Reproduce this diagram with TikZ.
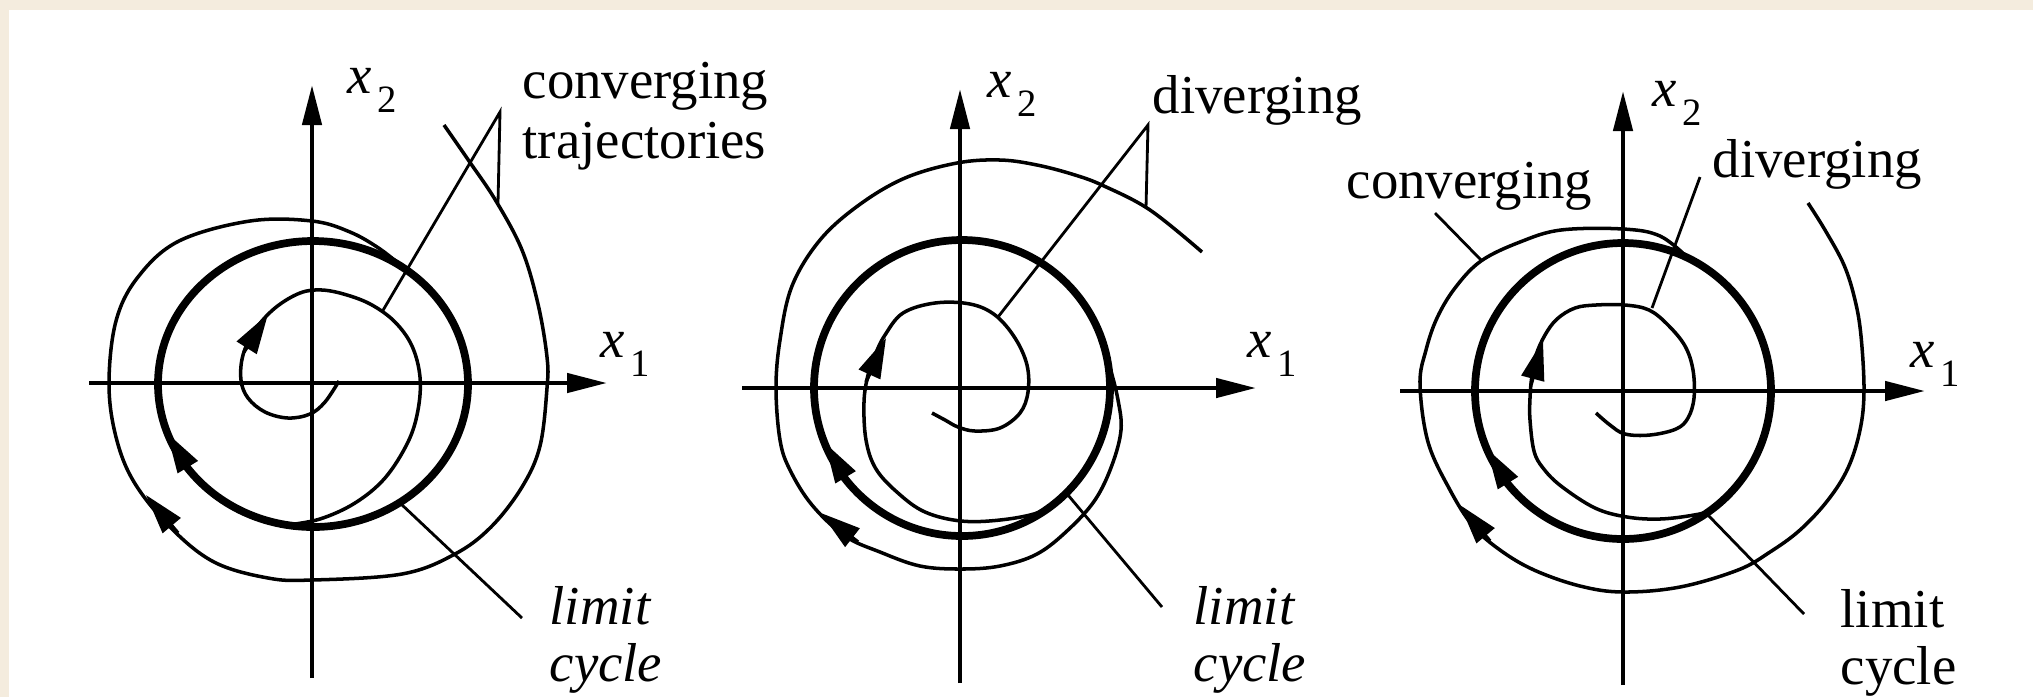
\documentclass[tikz,border=0pt]{standalone}
\usepackage{fontspec}
\setmainfont{Liberation Serif}
\usepackage{xcolor}
\usetikzlibrary{arrows.meta,positioning}
\definecolor{paper}{RGB}{244,236,222}
\newcommand{\axsub}[1]{\hspace{1.5pt}\raisebox{-5.5pt}{\fontsize{11pt}{11pt}\selectfont\upshape #1}}

\begin{document}
\begin{tikzpicture}[x=0.1mm, y=-0.1mm,
    axis/.style={line width=1.3pt, -{Triangle[length=4mm,width=1.9mm]}},
    limcyc/.style={line width=2.2pt},
    traj/.style={line width=1pt},
    leader/.style={line width=0.8pt},
    flowtip/.style={line width=1pt, -{Triangle[length=4mm,width=2.3mm]}},
    lbl/.style={font=\fontsize{15.6pt}{16pt}\selectfont, inner sep=0pt, anchor=base west, align=left},
    axlbl/.style={font=\fontsize{15.6pt}{16pt}\selectfont\itshape, inner sep=0pt, anchor=base west}]
    \useasboundingbox (0,0) rectangle (2033,697);
    \fill[paper] (0,0) rectangle (2033,697);
    \fill[white] (9,10) rectangle (2033,697);

    \draw[axis] (89,383) -- (607,383);
    \draw[axis] (312,678) -- (312,85);
    \node[axlbl] (p1xa) at (600,357) {x\axsub{1}};
    \node[axlbl] (p1xb) at (347,93) {x\axsub{2}};
    \draw[limcyc] (313,384) ellipse [x radius=155, y radius=143];
    \draw[traj] plot[smooth, tension=0.6] coordinates {(444,125) (469,161) (496,201) (522,250) (538,304) (547,357) (547,388) (540,446) (522,487) (491,527) (455,554) (402,574) (312,580) (268,578) (214,562) (170,527) (134,482) (116,437) (109,384) (116,321) (138,277) (179,241) (250,221) (312,221) (350,232) (380,249) (405,269)};
    \draw[traj] plot[smooth, tension=0.6] coordinates {(339,381) (325,402) (310,414) (288,418) (265,412) (248,398) (241,380) (243,355) (255,330) (275,308) (300,293) (322,290) (347,295) (372,305) (395,322) (412,346) (420,377) (418,410) (408,442) (385,478) (355,503) (320,519) (287,525)};
    \draw[flowtip] (178,533) -- (146,495);
    \draw[flowtip] (192,474) -- (167,433);
    \draw[flowtip] (244,352) -- (268,314);
    \node[lbl] (conv1) at (522,158) {converging\\[1pt]trajectories};
    \node[lbl, font=\fontsize{15.6pt}{16pt}\selectfont\itshape] (lim1) at (549,681) {limit\\cycle};
    \coordinate (p1apex) at (500,112);
    \coordinate (p1in) at (382,312);
    \coordinate (p1out) at (498,203);
    \coordinate (p1lc) at (400,503);
    \coordinate (p1lcend) at (522,618);
    \draw[leader] (p1in) -- (p1apex) -- (p1out);
    \draw[leader] (p1lc) -- (p1lcend);

    \draw[axis] (742,388) -- (1256,388);
    \draw[axis] (960,683) -- (960,89);
    \node[axlbl] (p2xa) at (1247,357) {x\axsub{1}};
    \node[axlbl] (p2xb) at (987,97) {x\axsub{2}};
    \draw[limcyc] (962,388) circle [radius=148];
    \draw[traj] plot[smooth, tension=0.6] coordinates {(1100,340) (1110,368) (1118,400) (1121,430) (1112,465) (1095,500) (1068,530) (1037,554) (1000,566) (961,569) (920,566) (880,552) (845,536) (812,505) (790,470) (780,440) (776,388) (780,340) (792,286) (820,240) (859,205) (905,178) (957,163) (1000,160) (1037,165) (1075,175) (1104,186) (1150,210) (1202,252)};
    \draw[traj] plot[smooth, tension=0.6] coordinates {(1095,455) (1080,478) (1060,500) (1037,513) (1000,520) (961,521) (925,512) (898,493) (876,469) (866,440) (864,402) (868,375) (875,355) (885,335) (903,313) (935,303) (970,304) (995,315) (1015,338) (1027,365) (1028,392) (1020,413) (1000,428) (975,431) (958,427) (945,420) (932,413)};
    \draw[flowtip] (858,542) -- (821,513);
    \draw[flowtip] (849,483) -- (825,443);
    \draw[flowtip] (866,382) -- (886,338);
    \node[lbl] (div2) at (1152,113) {diverging};
    \node[lbl, font=\fontsize{15.6pt}{16pt}\selectfont\itshape] (lim2) at (1193,681) {limit\\cycle};
    \coordinate (p2apex) at (1148,125);
    \coordinate (p2in) at (998,317);
    \coordinate (p2out) at (1146,208);
    \coordinate (p2lc) at (1068,495);
    \coordinate (p2lcend) at (1162,607);
    \draw[leader] (p2in) -- (p2apex) -- (p2out);
    \draw[leader] (p2lc) -- (p2lcend);

    \draw[axis] (1400,391) -- (1925,391);
    \draw[axis] (1623,685) -- (1623,91);
    \node[axlbl] (p3xa) at (1910,367) {x\axsub{1}};
    \node[axlbl] (p3xb) at (1652,106) {x\axsub{2}};
    \draw[limcyc] (1623,391) circle [radius=148];
    \draw[traj] plot[smooth, tension=0.6] coordinates {(1808,203) (1825,230) (1844,265) (1855,300) (1861,336) (1864,391) (1860,430) (1848,468) (1828,500) (1800,530) (1770,552) (1738,570) (1680,587) (1623,592) (1580,586) (1534,570) (1500,550) (1473,526) (1450,490) (1428,442) (1420,384) (1426,350) (1437,318) (1455,288) (1481,261) (1520,242) (1561,230) (1623,229) (1660,236) (1688,258)};
    \draw[traj] plot[smooth, tension=0.6] coordinates {(1745,475) (1730,495) (1710,510) (1694,515) (1660,519) (1627,517) (1595,508) (1561,486) (1543,468) (1534,451) (1530,420) (1530,398) (1532,375) (1536,355) (1545,335) (1557,319) (1575,308) (1596,305) (1625,305) (1649,310) (1668,325) (1685,346) (1693,370) (1694,398) (1688,418) (1676,429) (1650,435) (1625,434) (1610,425) (1596,413)};
    \draw[flowtip] (1490,541) -- (1460,505);
    \draw[flowtip] (1511,488) -- (1487,449);
    \draw[flowtip] (1531,385) -- (1543,340);
    \node[lbl] (conv3) at (1346,198) {converging};
    \node[lbl] (div3) at (1712,177) {diverging};
    \node[lbl] (lim3) at (1840,684) {limit\\cycle};
    \coordinate (p3convstart) at (1435,213);
    \coordinate (p3out) at (1482,261);
    \coordinate (p3divstart) at (1700,177);
    \coordinate (p3in) at (1652,308);
    \coordinate (p3lc) at (1706,513);
    \coordinate (p3lcend) at (1804,614);
    \draw[leader] (p3convstart) -- (p3out);
    \draw[leader] (p3divstart) -- (p3in);
    \draw[leader] (p3lc) -- (p3lcend);
\end{tikzpicture}
\end{document}
